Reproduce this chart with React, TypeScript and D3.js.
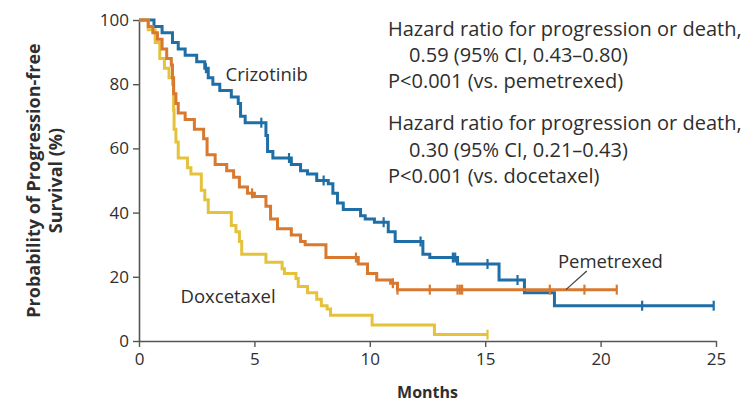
import React, { useEffect, useRef } from "react";
import * as d3 from "d3";

// Axis ticks
const xTicks = [0, 5, 10, 15, 20, 25];
const yTicks = [0, 20, 40, 60, 80, 100];

// Kaplan–Meier step points: time (months) at which survival (%) drops to the given value
const crizotinibTimes = [0, 0.65, 1.0, 1.45, 1.7, 2.0, 2.5, 2.85, 3.0, 3.2, 3.5, 4.0, 4.3, 4.4, 4.6, 5.5, 5.57, 5.8, 6.6, 7.0, 7.3, 7.7, 8.2, 8.4, 8.6, 8.85, 9.6, 9.8, 10.2, 10.8, 11.1, 12.3, 12.6, 13.8, 15.6, 16.7, 18.0];
const crizotinibSurvival = [100, 98, 96, 93, 91, 89, 87, 85, 82, 80, 78, 76, 74, 70, 68, 64, 59, 57, 55, 53, 52, 50, 49, 46, 43, 41, 39, 38, 37, 34, 31, 27, 26, 24, 19, 15, 11];
const crizotinibEnd = 24.9;
const crizotinibCensored = [2.9, 5.3, 6.5, 8.0, 10.6, 12.2, 13.6, 13.7, 15.1, 16.4, 21.8, 24.9];

const pemetrexedTimes = [0, 0.4, 0.6, 0.8, 1.0, 1.2, 1.4, 1.45, 1.5, 1.6, 1.7, 2.0, 2.4, 2.8, 2.95, 3.3, 3.8, 4.1, 4.35, 4.7, 5.0, 5.5, 5.7, 6.0, 6.6, 7.0, 7.2, 8.1, 9.5, 9.9, 10.3, 10.9, 11.2];
const pemetrexedSurvival = [100, 98, 96, 94, 91, 88, 86, 82, 77, 74, 71, 69, 66, 63, 58, 55, 53, 51, 48, 46, 45, 42, 38, 35, 33, 31, 30, 26, 24, 21, 19, 18, 16];
const pemetrexedEnd = 20.7;
const pemetrexedCensored = [4.9, 9.4, 11.0, 11.2, 12.6, 13.8, 13.9, 14.0, 17.8, 19.3, 20.7];

const docetaxelTimes = [0, 0.4, 0.7, 0.9, 1.1, 1.3, 1.45, 1.5, 1.52, 1.6, 1.7, 2.1, 2.25, 2.7, 2.85, 3.0, 4.0, 4.2, 4.35, 4.45, 5.5, 6.2, 6.3, 6.8, 6.9, 7.3, 7.7, 7.9, 8.15, 8.3, 10.1, 12.8];
const docetaxelSurvival = [100, 97, 93, 88, 85, 82, 80, 72, 66, 62, 57, 54, 52, 47, 44, 40, 36, 34, 31, 27, 24.5, 22.5, 21, 19.5, 17, 15, 13, 11, 10, 8, 5, 2];
const docetaxelEnd = 15.1;
const docetaxelCensored = [15.1];

const hazardLines = [
  "Hazard ratio for progression or death,",
  "0.59 (95% CI, 0.43\u20130.80)",
  "P<0.001 (vs. pemetrexed)",
  "Hazard ratio for progression or death,",
  "0.30 (95% CI, 0.21\u20130.43)",
  "P<0.001 (vs. docetaxel)",
];

const BLUE = "#1f6ea6";
const ORANGE = "#d9782f";
const YELLOW = "#e5c23b";
const TEXT = "#2e2e2e";
const FONT = "'Open Sans', Lato, sans-serif";

type Series = {
  name: string;
  times: number[];
  survival: number[];
  end: number;
  censored: number[];
  color: string;
};

const series: Series[] = [
  { name: "Crizotinib", times: crizotinibTimes, survival: crizotinibSurvival, end: crizotinibEnd, censored: crizotinibCensored, color: BLUE },
  { name: "Docetaxel", times: docetaxelTimes, survival: docetaxelSurvival, end: docetaxelEnd, censored: docetaxelCensored, color: YELLOW },
  { name: "Pemetrexed", times: pemetrexedTimes, survival: pemetrexedSurvival, end: pemetrexedEnd, censored: pemetrexedCensored, color: ORANGE },
];

function survivalAt(s: Series, t: number): number {
  let v = s.survival[0];
  for (let i = 0; i < s.times.length; i++) {
    if (s.times[i] <= t) v = s.survival[i];
  }
  return v;
}

export default function App() {
  const ref = useRef<SVGSVGElement>(null);

  useEffect(() => {
    const svg = d3.select(ref.current);
    svg.selectAll("*").remove();

    const x = d3.scaleLinear().domain([0, 25]).range([139, 716]);
    const y = d3.scaleLinear().domain([0, 100]).range([341, 20]);

    // Y axis
    const yAxis = svg
      .append("g")
      .attr("transform", `translate(${x(0)},0)`)
      .call(d3.axisLeft(y).tickValues(yTicks).tickSize(6).tickSizeOuter(0).tickPadding(4));
    // X axis
    const xAxis = svg
      .append("g")
      .attr("transform", `translate(0,${y(0)})`)
      .call(d3.axisBottom(x).tickValues(xTicks).tickSize(6).tickSizeOuter(0).tickPadding(6));

    [yAxis, xAxis].forEach((g) => {
      g.select(".domain").attr("stroke", "#555").attr("stroke-width", 1.6);
      g.selectAll(".tick line").attr("stroke", "#555").attr("stroke-width", 1.4);
      g.selectAll(".tick text")
        .attr("fill", TEXT)
        .style("font-family", FONT)
        .style("font-size", "17px");
    });

    // Survival curves
    const line = d3
      .line<[number, number]>()
      .x((d) => x(d[0]))
      .y((d) => y(d[1]))
      .curve(d3.curveStepAfter);

    series.forEach((s) => {
      const pts: [number, number][] = s.times.map((t, i) => [t, s.survival[i]]);
      pts.push([s.end, s.survival[s.survival.length - 1]]);
      svg
        .append("path")
        .attr("d", line(pts))
        .attr("fill", "none")
        .attr("stroke", s.color)
        .attr("stroke-width", 3)
        .attr("stroke-linejoin", "miter");

      svg
        .append("g")
        .selectAll("line")
        .data(s.censored)
        .join("line")
        .attr("x1", (t) => x(t))
        .attr("x2", (t) => x(t))
        .attr("y1", (t) => y(survivalAt(s, t)) - 5)
        .attr("y2", (t) => y(survivalAt(s, t)) + 5)
        .attr("stroke", s.color)
        .attr("stroke-width", 2.2);
    });

    // Curve labels
    const label = (text: string, t: number, v: number) =>
      svg
        .append("text")
        .attr("x", x(t))
        .attr("y", y(v))
        .attr("fill", TEXT)
        .style("font-family", FONT)
        .style("font-size", "18.5px")
        .text(text);

    label("Crizotinib", 3.75, 81);
    label("Doxcetaxel", 1.8, 11.8);
    label("Pemetrexed", 18.15, 22.7);

    svg
      .append("line")
      .attr("x1", x(18.5))
      .attr("y1", y(16))
      .attr("x2", x(19.4))
      .attr("y2", y(21.8))
      .attr("stroke", "#444")
      .attr("stroke-width", 1.3);

    // Hazard ratio annotation
    const baselines = [36, 62, 88, 130, 157, 183];
    const indents = [0, 1, 0, 0, 1, 0];
    svg
      .append("g")
      .selectAll("text")
      .data(hazardLines)
      .join("text")
      .attr("x", (_, i) => 388 + indents[i] * 21)
      .attr("y", (_, i) => baselines[i])
      .attr("fill", TEXT)
      .style("font-family", FONT)
      .style("font-size", "20px")
      .text((d) => d);

    // Axis titles
    svg
      .append("text")
      .attr("transform", `translate(${x(12.5)},398)`)
      .attr("text-anchor", "middle")
      .attr("fill", TEXT)
      .style("font-family", FONT)
      .style("font-size", "16px")
      .style("font-weight", "bold")
      .text("Months");

    const yMid = (y(0) + y(100)) / 2;
    const yTitle = svg
      .append("text")
      .attr("transform", `translate(0,${yMid}) rotate(-90)`)
      .attr("text-anchor", "middle")
      .attr("fill", TEXT)
      .style("font-family", FONT)
      .style("font-size", "18px")
      .style("font-weight", "bold");
    yTitle.append("tspan").attr("x", 0).attr("y", 40).text("Probability of Progression-free");
    yTitle.append("tspan").attr("x", 0).attr("y", 62).text("Survival (%)");
  }, []);

  return (
    <svg
      ref={ref}
      width={747}
      height={415}
      style={{ position: "absolute", left: 0, top: 0, background: "#fff" }}
    />
  );
}
